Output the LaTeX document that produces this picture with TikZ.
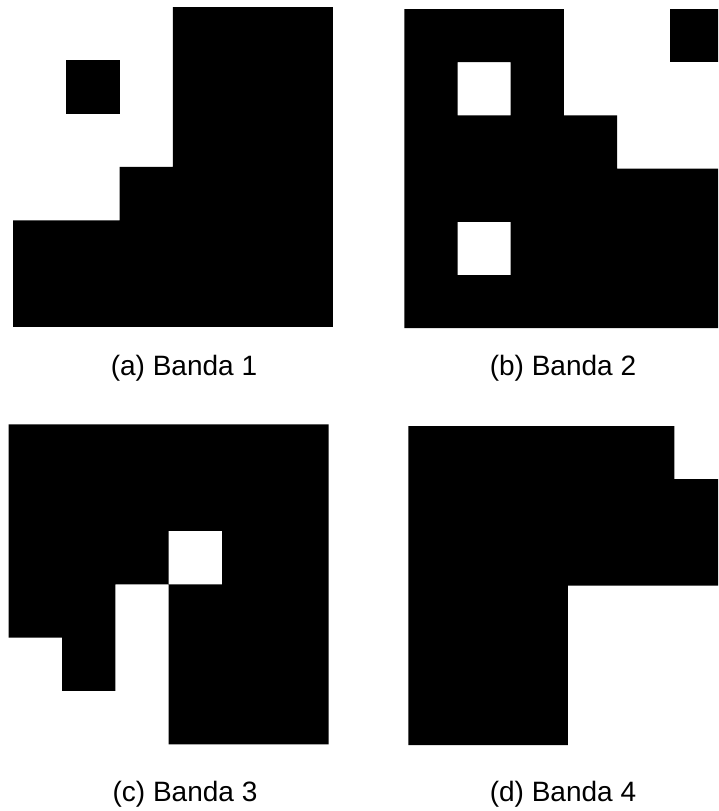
\documentclass[tikz,border=0pt]{standalone}
\usepackage{fontspec}
\setmainfont{Liberation Sans}
\tikzset{
  blk/.style={fill=black, even odd rule},
  captext/.style={anchor=base, inner sep=0pt, font=\fontsize{28}{34}\selectfont}
}
\begin{document}
\begin{tikzpicture}[x=1pt,y=-1pt]
\useasboundingbox (0,0) rectangle (718,811);
\clip (0,0) rectangle (718,811);
\fill[white] (0,0) rectangle (718,811);
% (a)
\begin{scope}[shift={(13,7)}, x=53.33pt, y=-53.33pt]
  \fill[blk] (3,0) -- (6,0) -- (6,6) -- (0,6) -- (0,4) -- (2,4) -- (2,3) -- (3,3) -- cycle;
  \fill[blk] (1,1) rectangle (2,2);
\end{scope}
% (b)
\begin{scope}[shift={(404.3,9)}, x=53.2pt, y=-53.2pt]
  \fill[blk] (0,0) -- (3,0) -- (3,2) -- (4,2) -- (4,3) -- (6,3) -- (6,6) -- (0,6) -- cycle
             (1,1) rectangle (2,2) (1,4) rectangle (2,5);
  \fill[blk] (5,0) rectangle (6,1);
\end{scope}
% (c)
\begin{scope}[shift={(8.7,424.3)}, x=53.33pt, y=-53.33pt]
  \fill[blk] (0,0) -- (6,0) -- (6,6) -- (3,6) -- (3,3) -- (2,3) -- (2,5) -- (1,5) -- (1,4) -- (0,4) -- cycle
             (3,2) rectangle (4,3);
\end{scope}
% (d)
\begin{scope}[shift={(408.3,426)}, x=53.2pt, y=-53.2pt]
  \fill[blk] (0,0) -- (5,0) -- (5,1) -- (6,1) -- (6,3) -- (3,3) -- (3,6) -- (0,6) -- cycle;
\end{scope}
\node[captext] (la) at (184,375) {(a) Banda 1};
\node[captext] (lb) at (563,375) {(b) Banda 2};
\node[captext] (lc) at (185,801) {(c) Banda 3};
\node[captext] (ld) at (563,801) {(d) Banda 4};
\end{tikzpicture}
\end{document}
